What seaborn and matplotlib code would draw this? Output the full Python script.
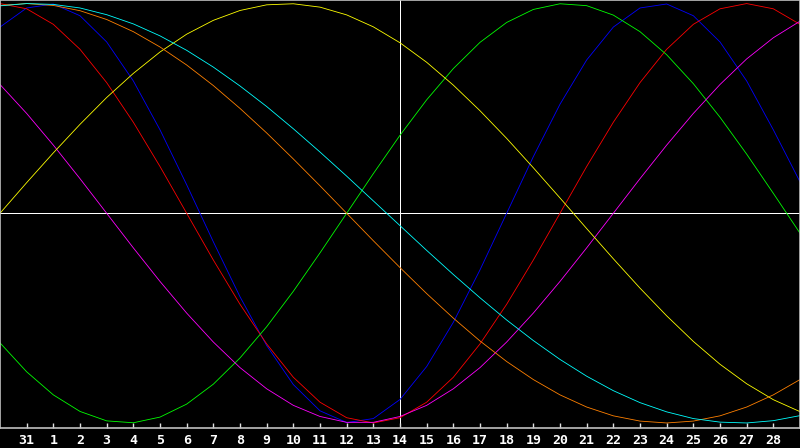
import pandas as pd
import matplotlib
matplotlib.use('Agg')
import matplotlib.pyplot as plt
import seaborn as sns

# дни на оси: 30 янв .. 1 мар, подписаны только 31 .. 28
day_labels = ['31'] + [str(d) for d in range(1, 29)]
day_index = list(range(31))

physical = [0.888, 0.979, 0.998, 0.942, 0.817, 0.631, 0.398, 0.136, -0.136, -0.398, -0.631, -0.817, -0.942, -0.998, -0.979, -0.888, -0.731, -0.520, -0.270, -0.000, 0.270, 0.520, 0.731, 0.888, 0.979, 0.998, 0.942, 0.817, 0.631, 0.398, 0.150]
emotional = [1.000, 0.975, 0.901, 0.782, 0.623, 0.434, 0.223, 0.000, -0.223, -0.434, -0.623, -0.782, -0.901, -0.975, -1.000, -0.975, -0.901, -0.782, -0.623, -0.434, -0.223, -0.000, 0.223, 0.434, 0.623, 0.782, 0.901, 0.975, 1.000, 0.975, 0.901]
intellectual = [-0.618, -0.756, -0.866, -0.945, -0.990, -0.999, -0.972, -0.910, -0.815, -0.690, -0.541, -0.372, -0.189, -0.000, 0.189, 0.372, 0.541, 0.690, 0.815, 0.910, 0.972, 0.999, 0.990, 0.945, 0.866, 0.756, 0.618, 0.458, 0.282, 0.095, -0.095]
intuitive = [0.614, 0.476, 0.325, 0.165, 0.000, -0.165, -0.325, -0.476, -0.614, -0.736, -0.837, -0.916, -0.969, -0.997, -0.997, -0.969, -0.916, -0.837, -0.736, -0.614, -0.476, -0.325, -0.165, -0.000, 0.165, 0.325, 0.476, 0.614, 0.736, 0.837, 0.916]
aesthetic = [0.000, 0.146, 0.288, 0.424, 0.552, 0.667, 0.769, 0.854, 0.920, 0.967, 0.994, 0.999, 0.983, 0.946, 0.889, 0.813, 0.720, 0.611, 0.489, 0.357, 0.217, 0.073, -0.073, -0.217, -0.357, -0.489, -0.611, -0.720, -0.813, -0.889, -0.946]
awareness = [0.991, 1.000, 0.991, 0.966, 0.924, 0.866, 0.793, 0.707, 0.609, 0.500, 0.383, 0.259, 0.131, 0.000, -0.131, -0.259, -0.383, -0.500, -0.609, -0.707, -0.793, -0.866, -0.924, -0.966, -0.991, -1.000, -0.991, -0.966, -0.924, -0.866, -0.793]
spiritual = [0.989, 1.000, 0.996, 0.979, 0.947, 0.903, 0.846, 0.777, 0.697, 0.607, 0.509, 0.403, 0.292, 0.177, 0.059, -0.059, -0.177, -0.292, -0.403, -0.509, -0.607, -0.697, -0.777, -0.846, -0.903, -0.947, -0.979, -0.996, -1.000, -0.989, -0.965]

series = {
    'physical': physical,
    'emotional': emotional,
    'intellectual': intellectual,
    'intuitive': intuitive,
    'aesthetic': aesthetic,
    'awareness': awareness,
    'spiritual': spiritual,
}
colors = {
    'physical': '#0000ff',
    'emotional': '#ff0000',
    'intellectual': '#00ff00',
    'intuitive': '#ff00ff',
    'aesthetic': '#ffff00',
    'awareness': '#ff8000',
    'spiritual': '#00ffff',
}

df = pd.DataFrame(series)
df['day'] = day_index
long_df = df.melt(id_vars='day', var_name='cycle', value_name='value')

fig = plt.figure(figsize=(8, 4.48), dpi=100, facecolor='black')
ax = fig.add_axes([0, 20 / 448, 1, 428 / 448])
ax.set_facecolor('black')

# центральные линии: ноль и текущий день
ax.axhline(0, color='white', lw=0.72, zorder=1, antialiased=False)
ax.axvline(15, color='white', lw=0.72, zorder=1, antialiased=False)

sns.lineplot(data=long_df, x='day', y='value', hue='cycle', palette=colors,
             hue_order=list(series.keys()), linewidth=0.6, legend=False, ax=ax,
             zorder=2, antialiased=True)

ax.set_xlim(0, 30)
ax.set_ylim(-1.024, 1.017)
ax.set_xticks(day_index[1:30])
ax.set_xticklabels(day_labels, color='white', fontsize=9.5, fontweight='bold',
                   family='DejaVu Sans Mono')
ax.set_yticks([])
ax.tick_params(axis='x', direction='in', length=3.5, width=1, color='#e0e0e0', pad=4)
ax.set_xlabel('')
ax.set_ylabel('')
for side in ['left', 'top', 'right', 'bottom']:
    ax.spines[side].set_color('#c0c0c0')
    ax.spines[side].set_linewidth(1.2)

fig.savefig('out.png', dpi=100, facecolor='black')
